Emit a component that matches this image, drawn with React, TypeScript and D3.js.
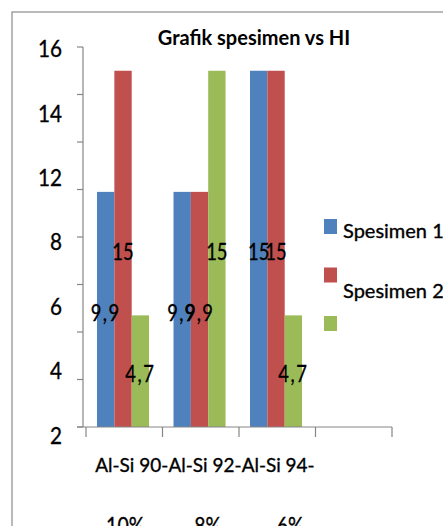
import React from "react";
import * as d3 from "d3";

const categories = ["Al-Si 90-10%", "Al-Si 92-8%", "Al-Si 94-6%", ""];
const seriesNames = ["Spesimen 1", "Spesimen 2", ""];
const spesimen1 = [9.9, 9.9, 15, null];
const spesimen2 = [15, 9.9, 15, null];
const spesimen3 = [4.7, 15, 4.7, null];
const seriesValues = [spesimen1, spesimen2, spesimen3];
const seriesColors = ["#4F81BD", "#C0504D", "#9BBB59"];
const yTickLabels = ["16", "14", "12", "8", "6", "4", "2"];
const yTickValues = [0, 2, 4, 6, 8, 10, 12, 14, 16];

const W = 443;
const H = 526;
const FONT = "Lato, 'Open Sans', sans-serif";
const TXT = { fill: "#000", stroke: "#000", strokeWidth: 0.35 };

function fmt(v: number) {
  return String(v).replace(".", ",");
}

export default function App() {
  const y = d3.scaleLinear().domain([0, 16]).range([427, 47]);
  const x = d3.scaleBand().domain(categories).range([86, 392]).paddingInner(0).paddingOuter(0);
  const inner = d3
    .scaleBand()
    .domain(seriesNames.map((_, i) => String(i)))
    .range([x.bandwidth() * 0.144, x.bandwidth() * 0.824]);
  const labelPos = d3.scalePoint().domain(yTickLabels).range([48.7, 435]);
  const legendY = d3.scaleLinear().domain([0, 1]).range([219, 267.5]);

  const axisColor = "#868686";

  return (
    <svg
      width={W}
      height={H}
      style={{ position: "absolute", left: 0, top: 0, display: "block" }}
      fontFamily={FONT}
    >
      <rect x={0} y={0} width={W} height={H} fill="#fff" />
      <rect x={12} y={12} width={600} height={700} fill="#fff" stroke="#8c8c8c" strokeWidth={1.2} />
      <text x={254} y={45} textAnchor="middle" fontWeight="bold" fontSize={20} fill="#000">
        Grafik spesimen vs HI
      </text>

      {/* bars */}
      {seriesValues.map((vals, si) =>
        vals.map((v, ci) =>
          v == null ? null : (
            <rect
              key={`b${si}-${ci}`}
              x={(x(categories[ci]) as number) + (inner(String(si)) as number)}
              y={y(v)}
              width={inner.bandwidth()}
              height={y(0) - y(v)}
              fill={seriesColors[si]}
            />
          )
        )
      )}

      {/* y axis */}
      <line x1={83} x2={83} y1={y(16)} y2={y(0)} stroke={axisColor} strokeWidth={1.2} />
      {yTickValues.map((t) => (
        <line key={`yt${t}`} x1={77} x2={83} y1={y(t)} y2={y(t)} stroke={axisColor} strokeWidth={1.2} />
      ))}
      {yTickLabels.map((l) => (
        <text
          key={`yl${l}`}
          transform={`translate(62,${(labelPos(l) as number) + 8.5}) scale(0.88,1)`}
          textAnchor="end"
          fontSize={23.5}
          {...TXT}
        >
          {l}
        </text>
      ))}

      {/* x axis */}
      <line x1={77} x2={392} y1={y(0)} y2={y(0)} stroke={axisColor} strokeWidth={1.2} />
      {categories.concat(["__end"]).map((c, i) => {
        const xx = i < categories.length ? (x(c) as number) : 392;
        return <line key={`xt${i}`} x1={xx} x2={xx} y1={y(0)} y2={y(0) + 10} stroke={axisColor} strokeWidth={1.2} />;
      })}
      {categories.map((c, i) => {
        if (!c) return null;
        const idx = c.lastIndexOf("-");
        const l1 = c.slice(0, idx + 1);
        const l2 = c.slice(idx + 1);
        const cx = (x(c) as number) + x.bandwidth() / 2;
        return (
          <g key={`xl${i}`}>
            <text
              x={cx + 7.5 - i * 3.3}
              y={472}
              textAnchor="middle"
              fontSize={19.5}
              textLength={73}
              lengthAdjust="spacingAndGlyphs"
              {...TXT}
            >
              {l1}
            </text>
            <text
              transform={`translate(${cx + 1 + i * 6},534) scale(0.85,1)`}
              textAnchor="middle"
              fontSize={23}
              {...TXT}
            >
              {l2}
            </text>
          </g>
        );
      })}

      {/* data labels */}
      {seriesValues.map((vals, si) =>
        vals.map((v, ci) => {
          if (v == null) return null;
          const cx = (x(categories[ci]) as number) + (inner(String(si)) as number) + inner.bandwidth() / 2;
          const mid = (y(v) + y(0)) / 2;
          const s = fmt(v);
          return (
            <text
              key={`dl${si}-${ci}`}
              transform={`translate(${cx},${mid + 11.3}) scale(0.8,1)`}
              textAnchor="middle"
              fontSize={23}
              letterSpacing={s.includes(",") ? 1.9 : 0}
              {...TXT}
            >
              {s}
            </text>
          );
        })
      )}

      {/* legend */}
      {seriesNames.map((n, i) => {
        const ty = legendY(i);
        return (
          <g key={`lg${i}`}>
            <rect x={324} y={ty} width={13} height={15} fill={seriesColors[i]} />
            {n ? (
              <text x={343} y={ty + (i === 0 ? 19 : 30)} fontSize={20} {...TXT}>
                {n}
              </text>
            ) : null}
          </g>
        );
      })}
    </svg>
  );
}
